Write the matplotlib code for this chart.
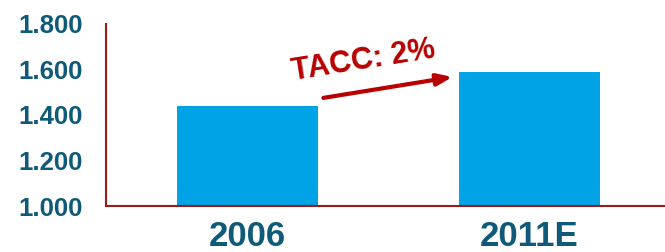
import matplotlib
matplotlib.use("Agg")
import matplotlib.pyplot as plt

# ----------------------------
# Data
# ----------------------------
years = ["2006", "2011E"]
values = [1.44, 1.59]
y_ticks = [1.0, 1.2, 1.4, 1.6, 1.8]
y_tick_labels = ["1.000", "1.200", "1.400", "1.600", "1.800"]
cagr_label = "TACC: 2%"

BAR_COLOR = "#00A3E6"
TEXT_COLOR = "#0E5A78"
AXIS_COLOR = "#9B1B1B"
ARROW_COLOR = "#B80000"

plt.rcParams["font.family"] = ["Liberation Sans", "DejaVu Sans"]

fig = plt.figure(figsize=(6.65, 2.52), dpi=100)
ax = fig.add_axes([0.1594, 0.1825, 0.8406, 0.7225])

x = list(range(len(years)))
ax.bar(x, values, width=0.5, color=BAR_COLOR, zorder=2)

ax.set_xlim(-0.5, 1.48)
ax.set_ylim(1.0, 1.8)
ax.set_yticks(y_ticks)
ax.set_yticklabels(y_tick_labels, fontsize=18.5, fontweight="bold", color=TEXT_COLOR)
ax.set_xticks(x)
ax.set_xticklabels(years, fontsize=25, fontweight="bold", color=TEXT_COLOR)
ax.tick_params(axis="both", length=0)
ax.tick_params(axis="y", pad=17)
ax.tick_params(axis="x", pad=10)

for side in ["top", "right"]:
    ax.spines[side].set_visible(False)
for side in ["left", "bottom"]:
    ax.spines[side].set_color(AXIS_COLOR)
    ax.spines[side].set_linewidth(1.5)

# growth arrow + label
ax.annotate(
    "", xy=(0.727, 1.567), xytext=(0.27, 1.475),
    arrowprops=dict(arrowstyle="-|>,head_length=0.9,head_width=0.35",
                    color=ARROW_COLOR, lw=3, shrinkA=0, shrinkB=0),
    zorder=3,
)
ax.text(0.41, 1.64, cagr_label, fontsize=22, fontweight="bold", color=ARROW_COLOR,
        rotation=9, ha="center", va="center", rotation_mode="anchor")

fig.savefig("out.png", dpi=100)
